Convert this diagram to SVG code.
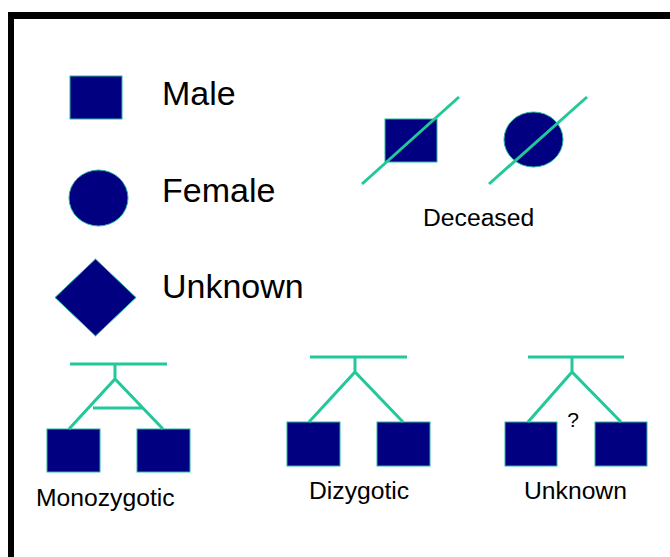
<svg xmlns="http://www.w3.org/2000/svg" width="670" height="557" viewBox="0 0 670 557">
<style>
.sym{fill:#000080;stroke:#2ab7a0;stroke-width:1}
.ln{stroke:#22c79a;stroke-width:3;fill:none;stroke-linecap:butt}
.big{font-family:"Liberation Sans",Arial,sans-serif;font-size:34px;fill:#000}
.lbl{font-family:"Liberation Sans",Arial,sans-serif;font-size:24.7px;fill:#000}
</style>
<rect x="0" y="0" width="670" height="557" fill="#fff"/>
<g id="frame">
<rect x="8" y="12" width="662" height="7" fill="#000"/>
<rect x="8" y="12" width="6" height="545" fill="#000"/>
</g>
<g id="male"><rect class="sym" x="70" y="76" width="52" height="43"/><text class="big" x="162" y="105">Male</text></g>
<g id="female"><ellipse class="sym" cx="98.5" cy="198" rx="29.5" ry="28"/><text class="big" x="162" y="202">Female</text></g>
<g id="unknown"><polygon class="sym" points="95.5,259 136,297.5 95.5,336 55,297.5"/><text class="big" x="162" y="298">Unknown</text></g>
<g id="deceased">
<rect class="sym" x="385" y="119" width="52" height="43"/>
<ellipse class="sym" cx="533.5" cy="139.5" rx="29.5" ry="27.5"/>
<text class="lbl" x="423" y="226">Deceased</text>
</g>
<g id="monozygotic">
<rect class="sym" x="47" y="429" width="53" height="43"/>
<rect class="sym" x="137" y="429" width="53" height="43"/>
<text class="lbl" x="36" y="506">Monozygotic</text>
</g>
<g id="dizygotic">
<rect class="sym" x="287" y="422" width="53" height="44"/>
<rect class="sym" x="377" y="422" width="53" height="44"/>
<text class="lbl" x="309" y="499">Dizygotic</text>
</g>
<g id="unknown-twins">
<rect class="sym" x="505" y="422" width="52" height="44"/>
<rect class="sym" x="595" y="422" width="52" height="44"/>
<text class="lbl" x="573" y="427" text-anchor="middle" style="font-size:21px">?</text>
<text class="lbl" x="524" y="499">Unknown</text>
</g>
<g id="connectors">
<line class="ln" x1="362" y1="184" x2="459" y2="97"/>
<line class="ln" x1="489" y1="184" x2="587" y2="97"/>
<path class="ln" d="M70,364 H167 M115,364 V379 M69,429 L115,379 L163,429 M93,408 H143"/>
<path class="ln" d="M310,357 H407 M355,357 V372 M309,422 L355,372 L403,422"/>
<path class="ln" d="M528,357 H624 M572,357 V372 M528,422 L572,372 L621,422"/>
</g>
</svg>
